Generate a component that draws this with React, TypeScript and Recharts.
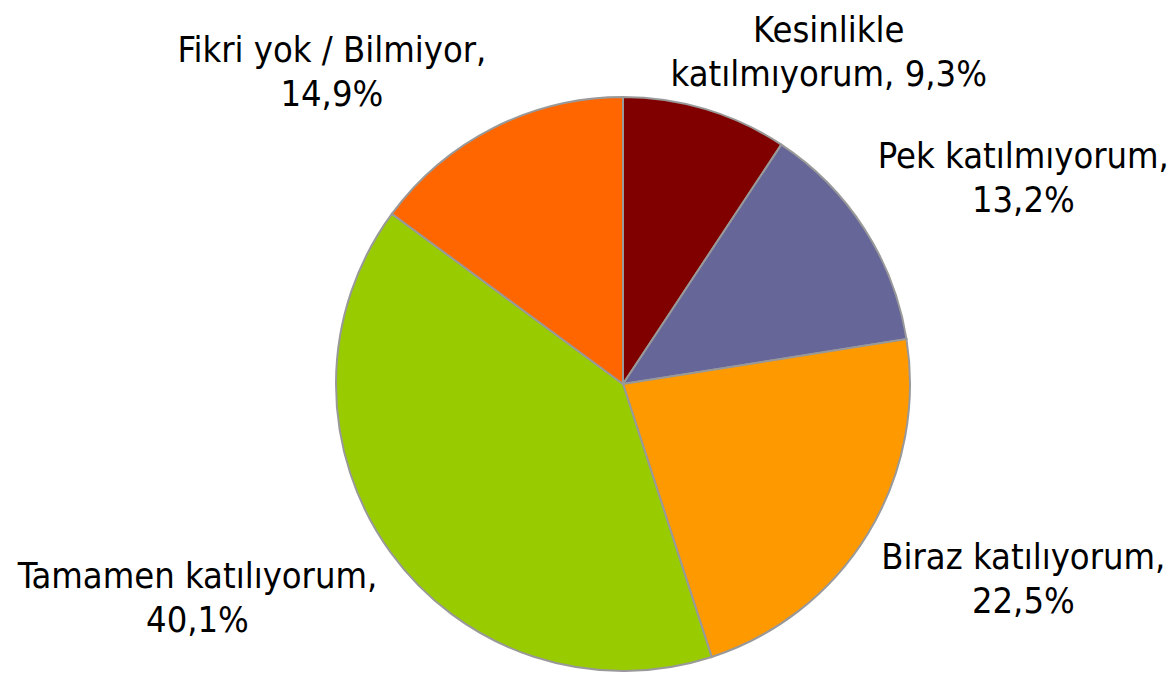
import { PieChart, Pie, Cell } from 'recharts'

const categories = [
  'Kesinlikle katılmıyorum',
  'Pek katılmıyorum',
  'Biraz katılıyorum',
  'Tamamen katılıyorum',
  'Fikri yok / Bilmiyor',
]
const shares = [9.3, 13.2, 22.5, 40.1, 14.9]
const sliceColors = ['#800000', '#666699', '#FF9900', '#99CC00', '#FF6600']

const data = categories.map((name, i) => ({ name, value: shares[i] }))

const FONT_FAMILY = '"DejaVu Sans Condensed", "DejaVu Sans", sans-serif'
const FONT_SIZE = 36
const LINE_HEIGHT = 44
const WRAP_WIDTH = 365

let ctx: CanvasRenderingContext2D | null = null
function measure(text: string) {
  if (!ctx) ctx = document.createElement('canvas').getContext('2d')
  if (!ctx) return text.length * FONT_SIZE * 0.5
  ctx.font = `${FONT_SIZE}px ${FONT_FAMILY}`
  return ctx.measureText(text).width
}

function wrap(text: string) {
  const words = text.split(' ')
  const lines: string[] = []
  let cur = ''
  for (const w of words) {
    const next = cur ? cur + ' ' + w : w
    if (cur && measure(next) > WRAP_WIDTH) {
      lines.push(cur)
      cur = w
    } else cur = next
  }
  if (cur) lines.push(cur)
  return lines
}

function renderLabel(props: any) {
  const { cx, cy, midAngle, outerRadius, payload, value } = props
  const rad = Math.PI / 180
  const ax = Math.cos(-midAngle * rad)
  const ay = Math.sin(-midAngle * rad)
  const r = outerRadius + 16
  const px = cx + r * ax
  const py = cy + r * ay

  const text = `${payload.name}, ${Number(value).toFixed(1).replace('.', ',')}%`
  const lines = wrap(text)
  const w = Math.max(...lines.map(measure))
  const capH = FONT_SIZE * 0.73
  const desc = FONT_SIZE * 0.22
  const h = capH + (lines.length - 1) * LINE_HEIGHT + desc

  // near the top/bottom the box slides toward being centred on the anchor
  const hx = Math.max(0, 0.5 - 1.3 * Math.abs(ax))
  const vy = Math.max(0, 0.5 - 1.3 * Math.abs(ay))
  const left = ax >= 0 ? px - w * hx : px - w * (1 - hx)
  const top = ay >= 0 ? py - h * vy : py - h * (1 - vy)
  const x = left + w / 2

  return (
    <text
      x={x}
      y={top + capH}
      textAnchor="middle"
      fontFamily={FONT_FAMILY}
      fontSize={FONT_SIZE}
      fill="#000"
    >
      {lines.map((line, i) => (
        <tspan key={i} x={x} dy={i ? LINE_HEIGHT : 0}>
          {line}
        </tspan>
      ))}
    </text>
  )
}

export default function App() {
  return (
    <div style={{ position: 'absolute', left: 0, top: 0, background: '#fff' }}>
      <PieChart
        width={1173}
        height={675}
        margin={{ top: 0, right: 0, bottom: 0, left: 0 }}
      >
        <Pie
          data={data}
          dataKey="value"
          nameKey="name"
          cx={623}
          cy={384}
          outerRadius={287}
          startAngle={90}
          endAngle={-270}
          stroke="#999999"
          strokeWidth={2}
          labelLine={false}
          label={renderLabel}
          isAnimationActive={false}
        >
          {data.map((entry, i) => (
            <Cell key={entry.name} fill={sliceColors[i]} />
          ))}
        </Pie>
      </PieChart>
    </div>
  )
}
